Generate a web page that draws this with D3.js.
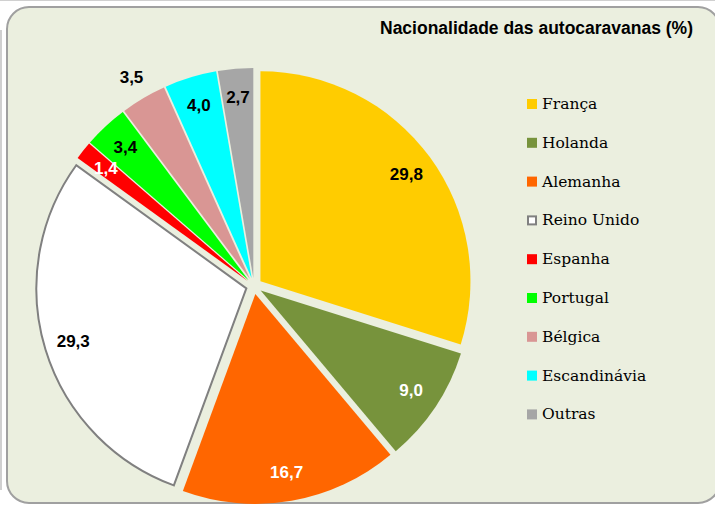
<!DOCTYPE html>
<html>
<head>
<meta charset="utf-8">
<script src="https://cdn.jsdelivr.net/npm/d3@7"></script>
<style>
  body { margin: 0; background: #fff; }
  svg { display: block; }
</style>
</head>
<body>
<div id="chart"></div>
<script>
// data
const countries = ["França", "Holanda", "Alemanha", "Reino Unido", "Espanha", "Portugal", "Bélgica", "Escandinávia", "Outras"];
const shares = [29.8, 9.0, 16.7, 29.3, 1.4, 3.4, 3.5, 4.0, 2.7];
const colors = ["#ffcc00", "#77933c", "#ff6600", "#ffffff", "#ff0000", "#00ff00", "#d99694", "#00ffff", "#a6a6a6"];
const labelColors = ["#000", "#fff", "#fff", "#000", "#fff", "#000", "#000", "#000", "#000"];
const labelsOutside = ["Bélgica"];
const title = "Nacionalidade das autocaravanas (%)";

const W = 715, H = 506;
const svg = d3.select("#chart").append("svg")
    .attr("width", W)
    .attr("height", H);

// outer frame bits
svg.append("line").attr("x1", 0).attr("x2", W).attr("y1", 0.5).attr("y2", 0.5)
   .attr("stroke", "#d0d0d0").attr("stroke-width", 1);
svg.append("line").attr("x1", 1).attr("x2", 1).attr("y1", 30).attr("y2", 490)
   .attr("stroke", "#c0c0c0").attr("stroke-width", 1.5);

// panel
svg.append("rect")
    .attr("x", 7).attr("y", 7)
    .attr("width", 713).attr("height", 496)
    .attr("rx", 22).attr("ry", 22)
    .attr("fill", "#ebefdf")
    .attr("stroke", "#a0a0a0")
    .attr("stroke-width", 2);

svg.append("text")
    .attr("x", 693).attr("y", 34)
    .attr("text-anchor", "end")
    .attr("textLength", 313)
    .attr("lengthAdjust", "spacingAndGlyphs")
    .style("font-family", "'Liberation Sans', Arial, sans-serif")
    .style("font-weight", "bold")
    .style("font-size", "18px")
    .text(title);

// pie
const cx = 254, cy = 286, R = 210, explode = 8;
const data = countries.map((c, i) => ({name: c, value: shares[i], color: colors[i], lc: labelColors[i]}));

const pie = d3.pie().sort(null).value(d => d.value);
const arc = d3.arc().innerRadius(0).outerRadius(R);
const arcs = pie(data);

const g = svg.append("g").attr("transform", `translate(${cx},${cy})`);

const mid = d => (d.startAngle + d.endAngle) / 2;

g.selectAll("path")
  .data(arcs)
  .enter()
  .append("path")
    .attr("d", arc)
    .attr("transform", d => `translate(${Math.sin(mid(d)) * explode},${-Math.cos(mid(d)) * explode})`)
    .attr("fill", d => d.data.color)
    .attr("stroke", d => d.data.name === "Reino Unido" ? "#808080" : "none")
    .attr("stroke-width", 2);

g.selectAll(".label")
  .data(arcs)
  .enter()
  .append("text")
    .attr("class", "label")
    .attr("x", d => Math.sin(mid(d)) * R * (labelsOutside.includes(d.data.name) ? 1.15 : 0.9))
    .attr("y", d => -Math.cos(mid(d)) * R * (labelsOutside.includes(d.data.name) ? 1.15 : 0.9))
    .attr("text-anchor", "middle")
    .attr("dominant-baseline", "central")
    .style("font-family", "'Liberation Sans', Arial, sans-serif")
    .style("font-weight", "bold")
    .style("font-size", "17px")
    .attr("fill", d => d.data.lc)
    .text(d => d3.format(".1f")(d.data.value).replace(".", ","));

// legend
const legend = svg.append("g").attr("transform", "translate(527,99)");
const item = legend.selectAll("g")
  .data(data)
  .enter()
  .append("g")
    .attr("transform", (d, i) => `translate(0,${i * 38.8})`);

item.append("rect")
    .attr("x", d => d.name === "Reino Unido" ? 1 : 0)
    .attr("y", d => d.name === "Reino Unido" ? 1 : 0)
    .attr("width", d => d.name === "Reino Unido" ? 8 : 10)
    .attr("height", d => d.name === "Reino Unido" ? 8 : 10)
    .attr("fill", d => d.color)
    .attr("stroke", d => d.name === "Reino Unido" ? "#808080" : "none")
    .attr("stroke-width", 2);

item.append("text")
    .attr("x", 15)
    .attr("y", 5)
    .attr("dominant-baseline", "central")
    .style("font-family", "'DejaVu Serif', serif")
    .style("font-size", "15.5px")
    .attr("fill", "#000")
    .text(d => d.name);
</script>
</body>
</html>
